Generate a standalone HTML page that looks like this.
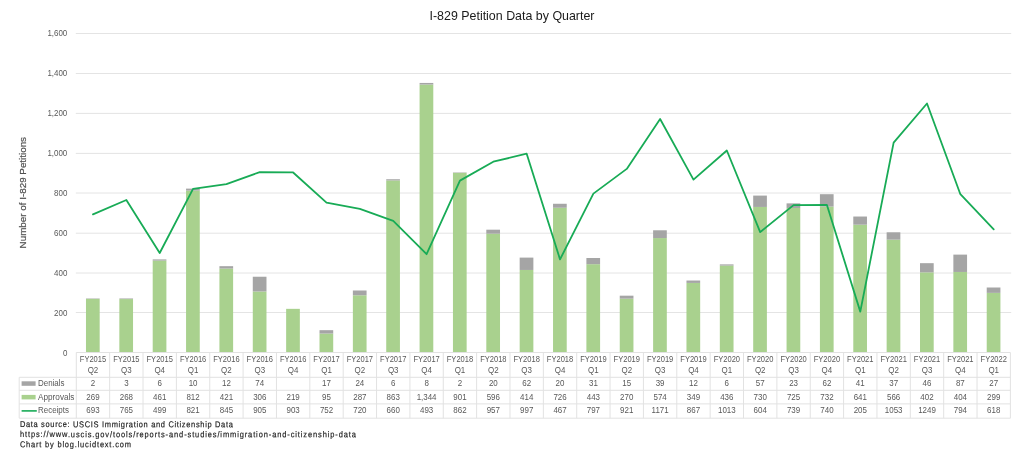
<!DOCTYPE html>
<html lang="en"><head><meta charset="utf-8"><title>I-829 Petition Data by Quarter</title>
<style>html,body{margin:0;padding:0;background:#fff}body{width:1024px;height:449px;overflow:hidden}svg{display:block}text{font-family:"Liberation Sans",sans-serif}.t{font-size:9.0px;fill:#595959}.c{text-anchor:middle}.e{text-anchor:end}.f{font-size:8.5px;fill:#1c1c1c;stroke:#1c1c1c;stroke-width:.18px}</style></head><body>
<svg width="1024" height="449" viewBox="0 0 1024 449">
<rect width="1024" height="449" fill="#fff"/>
<text x="512" y="20.1" text-anchor="middle" font-size="13.4" fill="#1a1a1a" textLength="165" lengthAdjust="spacingAndGlyphs">I-829 Petition Data by Quarter</text>
<g stroke="#e4e4e4" stroke-width="1" shape-rendering="auto">
<line x1="75.8" y1="312.50" x2="1011.2" y2="312.50"/>
<line x1="75.8" y1="273.00" x2="1011.2" y2="273.00"/>
<line x1="75.8" y1="233.20" x2="1011.2" y2="233.20"/>
<line x1="75.8" y1="193.00" x2="1011.2" y2="193.00"/>
<line x1="75.8" y1="153.40" x2="1011.2" y2="153.40"/>
<line x1="75.8" y1="113.40" x2="1011.2" y2="113.40"/>
<line x1="75.8" y1="73.50" x2="1011.2" y2="73.50"/>
<line x1="75.8" y1="33.50" x2="1011.2" y2="33.50"/>
</g>
<g class="t e">
<text transform="translate(67.30,355.80) scale(0.885,1)">0</text>
<text transform="translate(67.30,315.80) scale(0.885,1)">200</text>
<text transform="translate(67.30,275.80) scale(0.885,1)">400</text>
<text transform="translate(67.30,235.80) scale(0.885,1)">600</text>
<text transform="translate(67.30,195.80) scale(0.885,1)">800</text>
<text transform="translate(67.30,155.80) scale(0.885,1)">1,000</text>
<text transform="translate(67.30,115.80) scale(0.885,1)">1,200</text>
<text transform="translate(67.30,75.80) scale(0.885,1)">1,400</text>
<text transform="translate(67.30,35.80) scale(0.885,1)">1,600</text>
</g>
<text transform="translate(26.2,192.7) rotate(-90)" text-anchor="middle" font-size="9.4" fill="#505050" stroke="#505050" stroke-width=".2" textLength="111.4" lengthAdjust="spacingAndGlyphs">Number of I-829 Petitions</text>
<g fill="#a9d18e">
<rect x="85.98" y="298.87" width="13.7" height="53.63"/>
<rect x="119.34" y="299.07" width="13.7" height="53.43"/>
<rect x="152.70" y="260.59" width="13.7" height="91.91"/>
<rect x="186.06" y="190.61" width="13.7" height="161.89"/>
<rect x="219.42" y="268.56" width="13.7" height="83.94"/>
<rect x="252.78" y="291.49" width="13.7" height="61.01"/>
<rect x="286.14" y="308.84" width="13.7" height="43.66"/>
<rect x="319.51" y="333.56" width="13.7" height="18.94"/>
<rect x="352.87" y="295.28" width="13.7" height="57.22"/>
<rect x="386.23" y="180.44" width="13.7" height="172.06"/>
<rect x="419.59" y="84.54" width="13.7" height="267.96"/>
<rect x="452.95" y="172.86" width="13.7" height="179.64"/>
<rect x="486.31" y="233.67" width="13.7" height="118.83"/>
<rect x="519.67" y="269.96" width="13.7" height="82.54"/>
<rect x="553.03" y="207.75" width="13.7" height="144.75"/>
<rect x="586.39" y="264.18" width="13.7" height="88.32"/>
<rect x="619.75" y="298.67" width="13.7" height="53.83"/>
<rect x="653.11" y="238.06" width="13.7" height="114.44"/>
<rect x="686.47" y="282.92" width="13.7" height="69.58"/>
<rect x="719.83" y="265.57" width="13.7" height="86.93"/>
<rect x="753.19" y="206.96" width="13.7" height="145.54"/>
<rect x="786.56" y="207.95" width="13.7" height="144.55"/>
<rect x="819.92" y="206.56" width="13.7" height="145.94"/>
<rect x="853.28" y="224.70" width="13.7" height="127.80"/>
<rect x="886.64" y="239.65" width="13.7" height="112.85"/>
<rect x="920.00" y="272.35" width="13.7" height="80.15"/>
<rect x="953.36" y="271.95" width="13.7" height="80.55"/>
<rect x="986.72" y="292.89" width="13.7" height="59.61"/>
</g>
<g fill="#a5a5a5">
<rect x="85.98" y="298.47" width="13.7" height="0.40"/>
<rect x="119.34" y="298.47" width="13.7" height="0.60"/>
<rect x="152.70" y="259.39" width="13.7" height="1.20"/>
<rect x="186.06" y="188.61" width="13.7" height="1.99"/>
<rect x="219.42" y="266.17" width="13.7" height="2.39"/>
<rect x="252.78" y="276.74" width="13.7" height="14.75"/>
<rect x="319.51" y="330.17" width="13.7" height="3.39"/>
<rect x="352.87" y="290.49" width="13.7" height="4.79"/>
<rect x="386.23" y="179.24" width="13.7" height="1.20"/>
<rect x="419.59" y="82.94" width="13.7" height="1.59"/>
<rect x="452.95" y="172.46" width="13.7" height="0.40"/>
<rect x="486.31" y="229.69" width="13.7" height="3.99"/>
<rect x="519.67" y="257.60" width="13.7" height="12.36"/>
<rect x="553.03" y="203.77" width="13.7" height="3.99"/>
<rect x="586.39" y="258.00" width="13.7" height="6.18"/>
<rect x="619.75" y="295.68" width="13.7" height="2.99"/>
<rect x="653.11" y="230.28" width="13.7" height="7.78"/>
<rect x="686.47" y="280.53" width="13.7" height="2.39"/>
<rect x="719.83" y="264.38" width="13.7" height="1.20"/>
<rect x="753.19" y="195.59" width="13.7" height="11.36"/>
<rect x="786.56" y="203.37" width="13.7" height="4.59"/>
<rect x="819.92" y="194.20" width="13.7" height="12.36"/>
<rect x="853.28" y="216.53" width="13.7" height="8.17"/>
<rect x="886.64" y="232.28" width="13.7" height="7.38"/>
<rect x="920.00" y="263.18" width="13.7" height="9.17"/>
<rect x="953.36" y="254.61" width="13.7" height="17.35"/>
<rect x="986.72" y="287.50" width="13.7" height="5.38"/>
</g>
<polyline points="92.98,214.33 126.34,199.98 159.70,253.01 193.06,188.81 226.42,184.03 259.78,172.07 293.14,172.46 326.51,202.57 359.87,208.95 393.23,220.91 426.59,254.21 459.95,180.64 493.31,161.70 526.67,153.72 560.03,259.39 593.39,193.60 626.75,168.88 660.11,119.03 693.47,179.64 726.83,150.53 760.19,232.08 793.56,205.16 826.92,204.96 860.28,311.63 893.64,142.56 927.00,103.48 960.36,194.20 993.72,229.29" fill="none" stroke="#18ab56" stroke-width="1.8" stroke-linejoin="round" stroke-linecap="round"/>
<g stroke="#e2e2e2" stroke-width="1" fill="none">
<line x1="76.3" y1="352.5" x2="1010.4" y2="352.5"/>
<line x1="19.2" y1="377.3" x2="1010.4" y2="377.3"/>
<line x1="19.2" y1="390.3" x2="1010.4" y2="390.3"/>
<line x1="19.2" y1="403.9" x2="1010.4" y2="403.9"/>
<line x1="19.2" y1="418.2" x2="1010.4" y2="418.2"/>
<line x1="19.2" y1="377.3" x2="19.2" y2="418.2"/>
<line x1="76.30" y1="352.5" x2="76.30" y2="418.2"/>
<line x1="109.66" y1="352.5" x2="109.66" y2="418.2"/>
<line x1="143.02" y1="352.5" x2="143.02" y2="418.2"/>
<line x1="176.38" y1="352.5" x2="176.38" y2="418.2"/>
<line x1="209.74" y1="352.5" x2="209.74" y2="418.2"/>
<line x1="243.10" y1="352.5" x2="243.10" y2="418.2"/>
<line x1="276.46" y1="352.5" x2="276.46" y2="418.2"/>
<line x1="309.82" y1="352.5" x2="309.82" y2="418.2"/>
<line x1="343.19" y1="352.5" x2="343.19" y2="418.2"/>
<line x1="376.55" y1="352.5" x2="376.55" y2="418.2"/>
<line x1="409.91" y1="352.5" x2="409.91" y2="418.2"/>
<line x1="443.27" y1="352.5" x2="443.27" y2="418.2"/>
<line x1="476.63" y1="352.5" x2="476.63" y2="418.2"/>
<line x1="509.99" y1="352.5" x2="509.99" y2="418.2"/>
<line x1="543.35" y1="352.5" x2="543.35" y2="418.2"/>
<line x1="576.71" y1="352.5" x2="576.71" y2="418.2"/>
<line x1="610.07" y1="352.5" x2="610.07" y2="418.2"/>
<line x1="643.43" y1="352.5" x2="643.43" y2="418.2"/>
<line x1="676.79" y1="352.5" x2="676.79" y2="418.2"/>
<line x1="710.15" y1="352.5" x2="710.15" y2="418.2"/>
<line x1="743.51" y1="352.5" x2="743.51" y2="418.2"/>
<line x1="776.88" y1="352.5" x2="776.88" y2="418.2"/>
<line x1="810.24" y1="352.5" x2="810.24" y2="418.2"/>
<line x1="843.60" y1="352.5" x2="843.60" y2="418.2"/>
<line x1="876.96" y1="352.5" x2="876.96" y2="418.2"/>
<line x1="910.32" y1="352.5" x2="910.32" y2="418.2"/>
<line x1="943.68" y1="352.5" x2="943.68" y2="418.2"/>
<line x1="977.04" y1="352.5" x2="977.04" y2="418.2"/>
<line x1="1010.40" y1="352.5" x2="1010.40" y2="418.2"/>
</g>
<rect x="21.6" y="381.3" width="14" height="4.5" fill="#a5a5a5"/>
<rect x="21.6" y="394.9" width="14" height="4.5" fill="#a9d18e"/>
<line x1="21.6" y1="410.9" x2="36.8" y2="410.9" stroke="#18ab56" stroke-width="1.6"/>
<g class="t">
<text transform="translate(38.00,386.30) scale(0.885,1)">Denials</text>
<text transform="translate(38.00,399.90) scale(0.885,1)" textLength="41.2" lengthAdjust="spacingAndGlyphs">Approvals</text>
<text transform="translate(38.00,413.40) scale(0.885,1)">Receipts</text>
</g>
<g class="t c">
<text transform="translate(92.98,362.00) scale(0.885,1)" textLength="29.8" lengthAdjust="spacingAndGlyphs">FY2015</text>
<text transform="translate(92.98,373.40) scale(0.885,1)">Q2</text>
<text transform="translate(126.34,362.00) scale(0.885,1)" textLength="29.8" lengthAdjust="spacingAndGlyphs">FY2015</text>
<text transform="translate(126.34,373.40) scale(0.885,1)">Q3</text>
<text transform="translate(159.70,362.00) scale(0.885,1)" textLength="29.8" lengthAdjust="spacingAndGlyphs">FY2015</text>
<text transform="translate(159.70,373.40) scale(0.885,1)">Q4</text>
<text transform="translate(193.06,362.00) scale(0.885,1)" textLength="29.8" lengthAdjust="spacingAndGlyphs">FY2016</text>
<text transform="translate(193.06,373.40) scale(0.885,1)">Q1</text>
<text transform="translate(226.42,362.00) scale(0.885,1)" textLength="29.8" lengthAdjust="spacingAndGlyphs">FY2016</text>
<text transform="translate(226.42,373.40) scale(0.885,1)">Q2</text>
<text transform="translate(259.78,362.00) scale(0.885,1)" textLength="29.8" lengthAdjust="spacingAndGlyphs">FY2016</text>
<text transform="translate(259.78,373.40) scale(0.885,1)">Q3</text>
<text transform="translate(293.14,362.00) scale(0.885,1)" textLength="29.8" lengthAdjust="spacingAndGlyphs">FY2016</text>
<text transform="translate(293.14,373.40) scale(0.885,1)">Q4</text>
<text transform="translate(326.51,362.00) scale(0.885,1)" textLength="29.8" lengthAdjust="spacingAndGlyphs">FY2017</text>
<text transform="translate(326.51,373.40) scale(0.885,1)">Q1</text>
<text transform="translate(359.87,362.00) scale(0.885,1)" textLength="29.8" lengthAdjust="spacingAndGlyphs">FY2017</text>
<text transform="translate(359.87,373.40) scale(0.885,1)">Q2</text>
<text transform="translate(393.23,362.00) scale(0.885,1)" textLength="29.8" lengthAdjust="spacingAndGlyphs">FY2017</text>
<text transform="translate(393.23,373.40) scale(0.885,1)">Q3</text>
<text transform="translate(426.59,362.00) scale(0.885,1)" textLength="29.8" lengthAdjust="spacingAndGlyphs">FY2017</text>
<text transform="translate(426.59,373.40) scale(0.885,1)">Q4</text>
<text transform="translate(459.95,362.00) scale(0.885,1)" textLength="29.8" lengthAdjust="spacingAndGlyphs">FY2018</text>
<text transform="translate(459.95,373.40) scale(0.885,1)">Q1</text>
<text transform="translate(493.31,362.00) scale(0.885,1)" textLength="29.8" lengthAdjust="spacingAndGlyphs">FY2018</text>
<text transform="translate(493.31,373.40) scale(0.885,1)">Q2</text>
<text transform="translate(526.67,362.00) scale(0.885,1)" textLength="29.8" lengthAdjust="spacingAndGlyphs">FY2018</text>
<text transform="translate(526.67,373.40) scale(0.885,1)">Q3</text>
<text transform="translate(560.03,362.00) scale(0.885,1)" textLength="29.8" lengthAdjust="spacingAndGlyphs">FY2018</text>
<text transform="translate(560.03,373.40) scale(0.885,1)">Q4</text>
<text transform="translate(593.39,362.00) scale(0.885,1)" textLength="29.8" lengthAdjust="spacingAndGlyphs">FY2019</text>
<text transform="translate(593.39,373.40) scale(0.885,1)">Q1</text>
<text transform="translate(626.75,362.00) scale(0.885,1)" textLength="29.8" lengthAdjust="spacingAndGlyphs">FY2019</text>
<text transform="translate(626.75,373.40) scale(0.885,1)">Q2</text>
<text transform="translate(660.11,362.00) scale(0.885,1)" textLength="29.8" lengthAdjust="spacingAndGlyphs">FY2019</text>
<text transform="translate(660.11,373.40) scale(0.885,1)">Q3</text>
<text transform="translate(693.47,362.00) scale(0.885,1)" textLength="29.8" lengthAdjust="spacingAndGlyphs">FY2019</text>
<text transform="translate(693.47,373.40) scale(0.885,1)">Q4</text>
<text transform="translate(726.83,362.00) scale(0.885,1)" textLength="29.8" lengthAdjust="spacingAndGlyphs">FY2020</text>
<text transform="translate(726.83,373.40) scale(0.885,1)">Q1</text>
<text transform="translate(760.19,362.00) scale(0.885,1)" textLength="29.8" lengthAdjust="spacingAndGlyphs">FY2020</text>
<text transform="translate(760.19,373.40) scale(0.885,1)">Q2</text>
<text transform="translate(793.56,362.00) scale(0.885,1)" textLength="29.8" lengthAdjust="spacingAndGlyphs">FY2020</text>
<text transform="translate(793.56,373.40) scale(0.885,1)">Q3</text>
<text transform="translate(826.92,362.00) scale(0.885,1)" textLength="29.8" lengthAdjust="spacingAndGlyphs">FY2020</text>
<text transform="translate(826.92,373.40) scale(0.885,1)">Q4</text>
<text transform="translate(860.28,362.00) scale(0.885,1)" textLength="29.8" lengthAdjust="spacingAndGlyphs">FY2021</text>
<text transform="translate(860.28,373.40) scale(0.885,1)">Q1</text>
<text transform="translate(893.64,362.00) scale(0.885,1)" textLength="29.8" lengthAdjust="spacingAndGlyphs">FY2021</text>
<text transform="translate(893.64,373.40) scale(0.885,1)">Q2</text>
<text transform="translate(927.00,362.00) scale(0.885,1)" textLength="29.8" lengthAdjust="spacingAndGlyphs">FY2021</text>
<text transform="translate(927.00,373.40) scale(0.885,1)">Q3</text>
<text transform="translate(960.36,362.00) scale(0.885,1)" textLength="29.8" lengthAdjust="spacingAndGlyphs">FY2021</text>
<text transform="translate(960.36,373.40) scale(0.885,1)">Q4</text>
<text transform="translate(993.72,362.00) scale(0.885,1)" textLength="29.8" lengthAdjust="spacingAndGlyphs">FY2022</text>
<text transform="translate(993.72,373.40) scale(0.885,1)">Q1</text>
<text transform="translate(92.98,386.30) scale(0.885,1)">2</text>
<text transform="translate(126.34,386.30) scale(0.885,1)">3</text>
<text transform="translate(159.70,386.30) scale(0.885,1)">6</text>
<text transform="translate(193.06,386.30) scale(0.885,1)">10</text>
<text transform="translate(226.42,386.30) scale(0.885,1)">12</text>
<text transform="translate(259.78,386.30) scale(0.885,1)">74</text>
<text transform="translate(326.51,386.30) scale(0.885,1)">17</text>
<text transform="translate(359.87,386.30) scale(0.885,1)">24</text>
<text transform="translate(393.23,386.30) scale(0.885,1)">6</text>
<text transform="translate(426.59,386.30) scale(0.885,1)">8</text>
<text transform="translate(459.95,386.30) scale(0.885,1)">2</text>
<text transform="translate(493.31,386.30) scale(0.885,1)">20</text>
<text transform="translate(526.67,386.30) scale(0.885,1)">62</text>
<text transform="translate(560.03,386.30) scale(0.885,1)">20</text>
<text transform="translate(593.39,386.30) scale(0.885,1)">31</text>
<text transform="translate(626.75,386.30) scale(0.885,1)">15</text>
<text transform="translate(660.11,386.30) scale(0.885,1)">39</text>
<text transform="translate(693.47,386.30) scale(0.885,1)">12</text>
<text transform="translate(726.83,386.30) scale(0.885,1)">6</text>
<text transform="translate(760.19,386.30) scale(0.885,1)">57</text>
<text transform="translate(793.56,386.30) scale(0.885,1)">23</text>
<text transform="translate(826.92,386.30) scale(0.885,1)">62</text>
<text transform="translate(860.28,386.30) scale(0.885,1)">41</text>
<text transform="translate(893.64,386.30) scale(0.885,1)">37</text>
<text transform="translate(927.00,386.30) scale(0.885,1)">46</text>
<text transform="translate(960.36,386.30) scale(0.885,1)">87</text>
<text transform="translate(993.72,386.30) scale(0.885,1)">27</text>
<text transform="translate(92.98,399.90) scale(0.885,1)">269</text>
<text transform="translate(126.34,399.90) scale(0.885,1)">268</text>
<text transform="translate(159.70,399.90) scale(0.885,1)">461</text>
<text transform="translate(193.06,399.90) scale(0.885,1)">812</text>
<text transform="translate(226.42,399.90) scale(0.885,1)">421</text>
<text transform="translate(259.78,399.90) scale(0.885,1)">306</text>
<text transform="translate(293.14,399.90) scale(0.885,1)">219</text>
<text transform="translate(326.51,399.90) scale(0.885,1)">95</text>
<text transform="translate(359.87,399.90) scale(0.885,1)">287</text>
<text transform="translate(393.23,399.90) scale(0.885,1)">863</text>
<text transform="translate(426.59,399.90) scale(0.885,1)">1,344</text>
<text transform="translate(459.95,399.90) scale(0.885,1)">901</text>
<text transform="translate(493.31,399.90) scale(0.885,1)">596</text>
<text transform="translate(526.67,399.90) scale(0.885,1)">414</text>
<text transform="translate(560.03,399.90) scale(0.885,1)">726</text>
<text transform="translate(593.39,399.90) scale(0.885,1)">443</text>
<text transform="translate(626.75,399.90) scale(0.885,1)">270</text>
<text transform="translate(660.11,399.90) scale(0.885,1)">574</text>
<text transform="translate(693.47,399.90) scale(0.885,1)">349</text>
<text transform="translate(726.83,399.90) scale(0.885,1)">436</text>
<text transform="translate(760.19,399.90) scale(0.885,1)">730</text>
<text transform="translate(793.56,399.90) scale(0.885,1)">725</text>
<text transform="translate(826.92,399.90) scale(0.885,1)">732</text>
<text transform="translate(860.28,399.90) scale(0.885,1)">641</text>
<text transform="translate(893.64,399.90) scale(0.885,1)">566</text>
<text transform="translate(927.00,399.90) scale(0.885,1)">402</text>
<text transform="translate(960.36,399.90) scale(0.885,1)">404</text>
<text transform="translate(993.72,399.90) scale(0.885,1)">299</text>
<text transform="translate(92.98,413.40) scale(0.885,1)">693</text>
<text transform="translate(126.34,413.40) scale(0.885,1)">765</text>
<text transform="translate(159.70,413.40) scale(0.885,1)">499</text>
<text transform="translate(193.06,413.40) scale(0.885,1)">821</text>
<text transform="translate(226.42,413.40) scale(0.885,1)">845</text>
<text transform="translate(259.78,413.40) scale(0.885,1)">905</text>
<text transform="translate(293.14,413.40) scale(0.885,1)">903</text>
<text transform="translate(326.51,413.40) scale(0.885,1)">752</text>
<text transform="translate(359.87,413.40) scale(0.885,1)">720</text>
<text transform="translate(393.23,413.40) scale(0.885,1)">660</text>
<text transform="translate(426.59,413.40) scale(0.885,1)">493</text>
<text transform="translate(459.95,413.40) scale(0.885,1)">862</text>
<text transform="translate(493.31,413.40) scale(0.885,1)">957</text>
<text transform="translate(526.67,413.40) scale(0.885,1)">997</text>
<text transform="translate(560.03,413.40) scale(0.885,1)">467</text>
<text transform="translate(593.39,413.40) scale(0.885,1)">797</text>
<text transform="translate(626.75,413.40) scale(0.885,1)">921</text>
<text transform="translate(660.11,413.40) scale(0.885,1)">1171</text>
<text transform="translate(693.47,413.40) scale(0.885,1)">867</text>
<text transform="translate(726.83,413.40) scale(0.885,1)">1013</text>
<text transform="translate(760.19,413.40) scale(0.885,1)">604</text>
<text transform="translate(793.56,413.40) scale(0.885,1)">739</text>
<text transform="translate(826.92,413.40) scale(0.885,1)">740</text>
<text transform="translate(860.28,413.40) scale(0.885,1)">205</text>
<text transform="translate(893.64,413.40) scale(0.885,1)">1053</text>
<text transform="translate(927.00,413.40) scale(0.885,1)">1249</text>
<text transform="translate(960.36,413.40) scale(0.885,1)">794</text>
<text transform="translate(993.72,413.40) scale(0.885,1)">618</text>
</g>
<g class="f">
<text transform="translate(19.9,427.1) rotate(0.03) scale(0.88,1)" textLength="242.0" lengthAdjust="spacing">Data source: USCIS Immigration and Citizenship Data</text>
<text transform="translate(19.9,437.1) rotate(0.03) scale(0.88,1)" textLength="381.8" lengthAdjust="spacing">https://www.uscis.gov/tools/reports-and-studies/immigration-and-citizenship-data</text>
<text transform="translate(19.9,447.2) rotate(0.03) scale(0.88,1)" textLength="126.1" lengthAdjust="spacing">Chart by blog.lucidtext.com</text>
</g>
</svg></body></html>
